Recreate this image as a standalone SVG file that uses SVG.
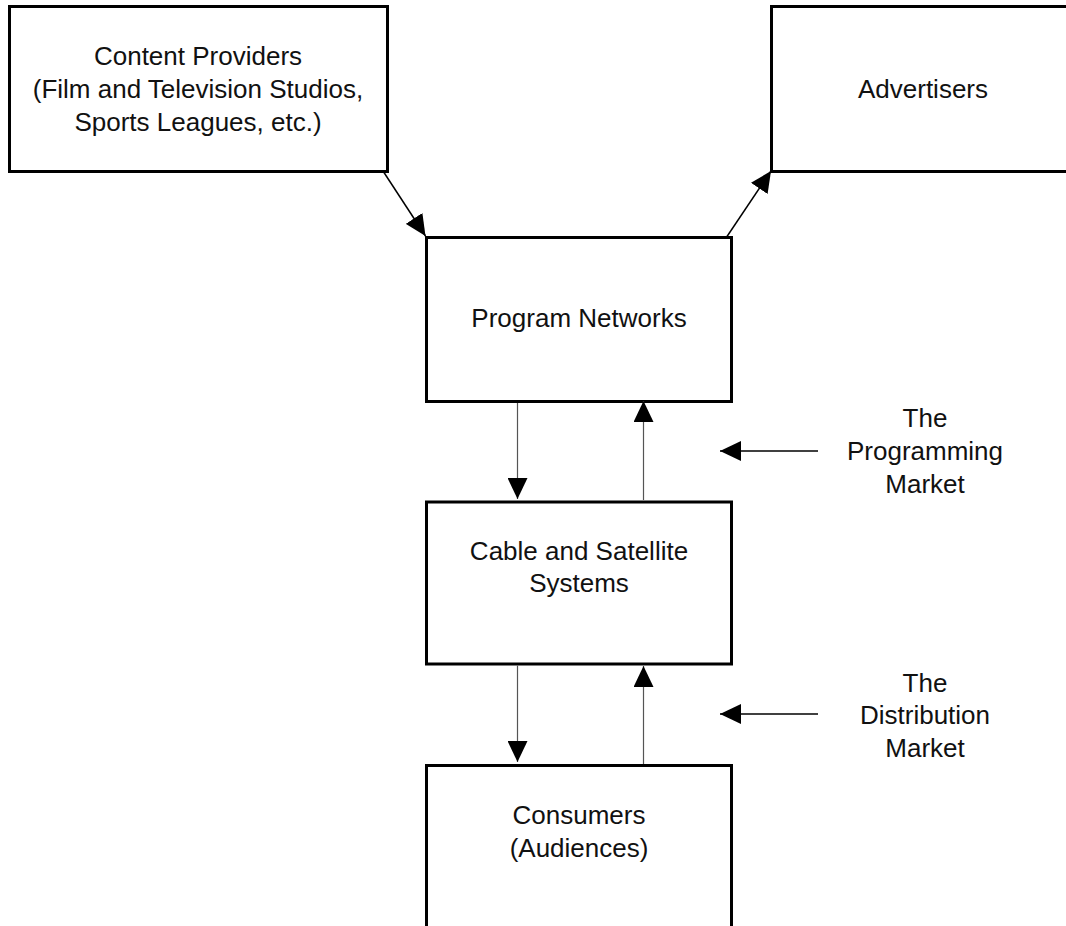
<svg xmlns="http://www.w3.org/2000/svg" width="1066" height="926" viewBox="0 0 1066 926">
<defs>
<style>
.box{fill:#fff;stroke:#000;stroke-width:3}
.t{font-family:"Liberation Sans",Arial,Helvetica,sans-serif;font-size:26px;fill:#111;text-anchor:middle}
.dk{stroke:#000;stroke-width:1.5;fill:none}
.gr{stroke:#555;stroke-width:1.2;fill:none}
</style>
<marker id="ah" markerUnits="userSpaceOnUse" markerWidth="22" markerHeight="20" refX="21" refY="10" orient="auto" viewBox="0 0 22 20">
<path d="M0,0 L21,10 L0,20 z" fill="#000"/>
</marker>
</defs>
<rect width="1066" height="926" fill="#fff"/>
<g id="content-providers">
<rect class="box" x="9.5" y="6.5" width="378" height="165"/>
<text class="t" x="198" y="65">Content Providers</text>
<text class="t" x="198" y="98">(Film and Television Studios,</text>
<text class="t" x="198" y="131">Sports Leagues, etc.)</text>
</g>
<g id="advertisers">
<rect class="box" x="771.5" y="6.5" width="305" height="165"/>
<text class="t" x="923" y="98">Advertisers</text>
</g>
<g id="program-networks">
<rect class="box" x="426.5" y="237.5" width="305" height="164"/>
<text class="t" x="579" y="327">Program Networks</text>
</g>
<g id="cable-satellite">
<rect class="box" x="426.5" y="502" width="305" height="162"/>
<text class="t" x="579" y="560">Cable and Satellite</text>
<text class="t" x="579" y="592">Systems</text>
</g>
<g id="consumers">
<rect class="box" x="426.5" y="765.5" width="305" height="200"/>
<text class="t" x="579" y="824">Consumers</text>
<text class="t" x="579" y="857">(Audiences)</text>
</g>
<g id="programming-market-label">
<text class="t" x="925" y="427">The</text>
<text class="t" x="925" y="460">Programming</text>
<text class="t" x="925" y="493">Market</text>
</g>
<g id="distribution-market-label">
<text class="t" x="925" y="692">The</text>
<text class="t" x="925" y="724">Distribution</text>
<text class="t" x="925" y="757">Market</text>
</g>
<g id="connectors">
<line class="dk" x1="383" y1="171" x2="425.5" y2="236" marker-end="url(#ah)"/>
<line class="dk" x1="727" y1="236.5" x2="771" y2="171" marker-end="url(#ah)"/>
<line class="gr" x1="517.5" y1="403" x2="517.5" y2="499" marker-end="url(#ah)"/>
<line class="gr" x1="643.5" y1="500" x2="643.5" y2="401" marker-end="url(#ah)"/>
<line class="gr" x1="517.5" y1="665.5" x2="517.5" y2="762" marker-end="url(#ah)"/>
<line class="gr" x1="643.5" y1="764" x2="643.5" y2="666" marker-end="url(#ah)"/>
<line class="dk" x1="818" y1="451" x2="720" y2="451" marker-end="url(#ah)"/>
<line class="dk" x1="818" y1="714" x2="720" y2="714" marker-end="url(#ah)"/>
</g>
</svg>
